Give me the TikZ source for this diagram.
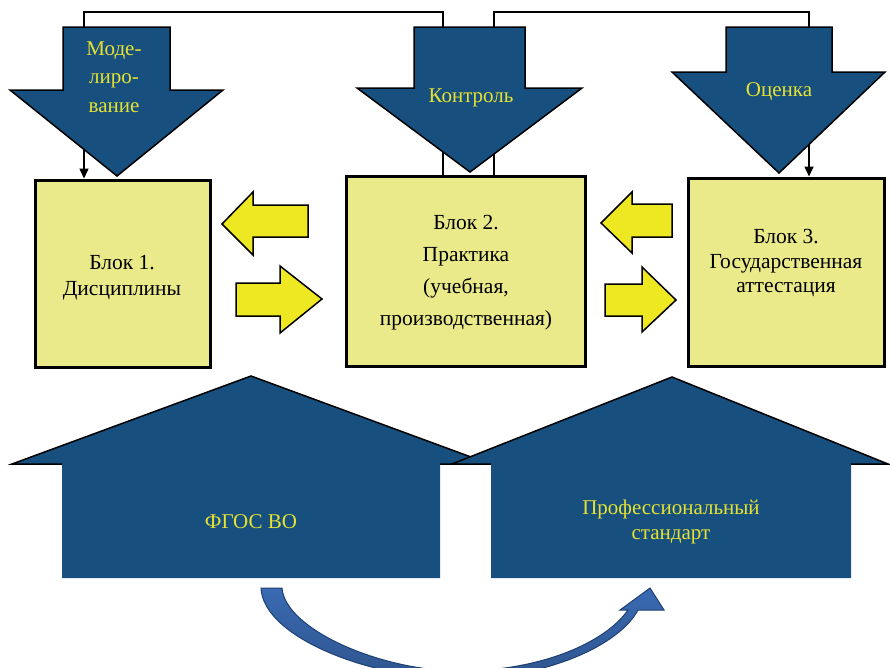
\documentclass[tikz,border=0pt]{standalone}
\usepackage{fontspec}
\setmainfont{Liberation Serif}
\usepackage{tikz}
\usetikzlibrary{positioning,calc,arrows.meta}

\definecolor{darkblue}{HTML}{17507F}
\definecolor{boxyellow}{HTML}{EAEA8A}
\definecolor{arryellow}{HTML}{EEE822}
\definecolor{lblyellow}{HTML}{E6E232}
\definecolor{bendblue}{HTML}{3A6AB2}
\definecolor{bendline}{HTML}{1E3F73}

\tikzset{
	blk/.style={draw=black, line width=3pt, fill=boxyellow, inner sep=0pt},
	blktxt/.style={align=center, font=\fontsize{21.5}{26}\selectfont},
	downarr/.style={fill=darkblue, draw=black, line width=1.5pt, line join=miter},
	yarrow/.style={fill=arryellow, draw=black, line width=1.5pt, line join=miter},
	lbl/.style={text=lblyellow, align=center, font=\fontsize{21}{25}\selectfont},
	conn/.style={line width=1.6pt, -{Triangle[length=10pt,width=9pt]}},
}

\begin{document}
\begin{tikzpicture}[x=1pt, y=-1pt]
	\useasboundingbox (0,0) rectangle (890,667);
	
	% blocks
	\node[blk, minimum width=175pt, minimum height=187pt] (blk1) at (122.5,273.5) {};
	\node[blk, minimum width=239pt, minimum height=190pt] (blk2) at (465.5,271) {};
	\node[blk, minimum width=196pt, minimum height=188pt] (blk3) at (786,272) {};
	
	% feedback lines
	\coordinate (tl) at (84,12);
	\coordinate (tm) at (443,12);
	\coordinate (tm2) at (494,12);
	\coordinate (tr) at (809,12);
	\draw[conn] (blk2.north -| tm) -- (tm) -- (tl) -- (blk1.north -| tl);
	\draw[conn] (blk2.north -| tm2) -- (tm2) -- (tr) -- (blk3.north -| tr);
	
	% down arrows
	\draw[downarr] (63,27) -- (170,27) -- (170,90) -- (223,90) -- (117,176) -- (10,90) -- (63,90) -- cycle;
	\draw[downarr] (414,27) -- (525,27) -- (525,88) -- (582,88) -- (470,172) -- (357,88) -- (414,88) -- cycle;
	\draw[downarr] (726,27) -- (832,27) -- (832,72) -- (885,72) -- (779,173) -- (672,72) -- (726,72) -- cycle;
	\node[lbl, font=\fontsize{21}{28.5}\selectfont] (model) at (114,77) {Моде-\\лиро-\\вание};
	\node[lbl] (kontr) at (471,98) {Контроль};
	\node[lbl] (ocen) at (779,92) {Оценка};
	
	% block texts
	\node[blktxt] (txt1) at (122,278) {Блок 1.\\Дисциплины};
	\node[blktxt, font=\fontsize{21.5}{32}\selectfont] (txt2) at (466,273) {Блок 2.\\Практика\\(учебная,\\производственная)};
	\node[blktxt, font=\fontsize{21.5}{24.5}\selectfont] (txt3) at (786,263) {Блок 3.\\Государственная\\аттестация};
	
	% yellow arrows
	\draw[yarrow] (308,205) -- (253,205) -- (253,192) -- (222,224) -- (253,255) -- (253,237) -- (308,237) -- cycle;
	\draw[yarrow] (236,283) -- (280,283) -- (280,266) -- (322,299) -- (280,333) -- (280,316) -- (236,316) -- cycle;
	\draw[yarrow] (672,204) -- (632,204) -- (632,192) -- (601,223) -- (632,253) -- (632,237) -- (672,237) -- cycle;
	\draw[yarrow] (605,284) -- (642,284) -- (642,267) -- (676,300) -- (642,332) -- (642,316) -- (605,316) -- cycle;
	
	% houses
	\fill[darkblue] (62,578) -- (62,464) -- (12,464) -- (251,376) -- (490,464) -- (440,464) -- (440,578) -- cycle;
	\draw[line width=1.5pt] (62,464) -- (12,464) -- (251,376) -- (490,464) -- (440,464);
	\fill[darkblue] (491,578) -- (491,464) -- (452,464) -- (672,377) -- (888,464) -- (851,464) -- (851,578) -- cycle;
	\draw[line width=1.5pt] (491,464) -- (452,464) -- (672,377) -- (888,464) -- (851,464);
	\node[lbl] (fgos) at (251,522) {ФГОС ВО};
	\node[lbl] (prof) at (671,522) {Профессиональный\\стандарт};
	
	% bent arrow
	\begin{scope}
		\clip (0,0) rectangle (890,667);
		\draw[bendline, line width=1pt, top color=bendblue, bottom color=bendblue!80!black]
			(261,588) .. controls (263,637) and (370,679) .. (460,679)
			.. controls (550,678) and (620,644) .. (638,610)
			-- (664,610) -- (650,588) -- (620,610) -- (628,610)
			.. controls (605,643) and (540,671) .. (460,671)
			.. controls (380,671) and (285,629) .. (282,588) -- cycle;
	\end{scope}
\end{tikzpicture}
\end{document}
